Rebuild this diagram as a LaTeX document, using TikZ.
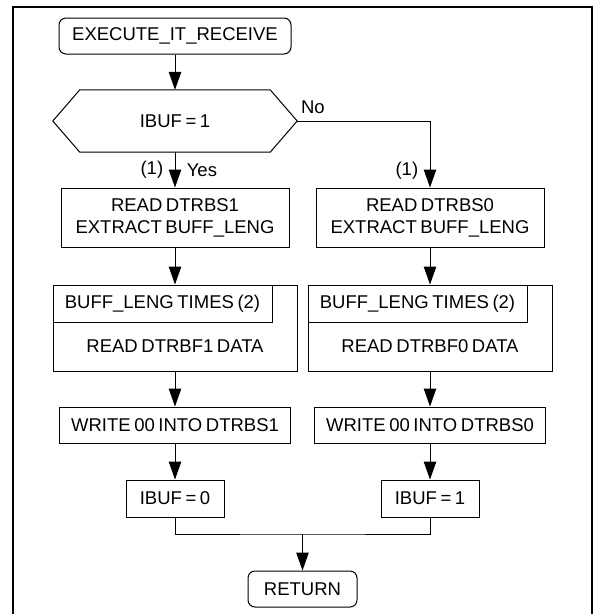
\documentclass[tikz,border=0pt]{standalone}
\usepackage{fontspec}
\setmainfont[WordSpace=0.7]{Liberation Sans}
\usetikzlibrary{arrows.meta}

\begin{document}
\begin{tikzpicture}[x=1pt, y=-1pt,
    box/.style={draw, line width=1pt, inner sep=0pt, align=center, minimum height=36pt},
    endbox/.style={box, rounded corners=7pt},
    label/.style={inner sep=0pt},
    flow/.style={line width=1pt, -{Triangle[width=12.5pt,length=18pt]}},
    every node/.style={font=\fontsize{18.5}{22}\selectfont}]
    \useasboundingbox (0,0) rectangle (595,614);
    % Outer frame
    \draw[line width=2pt] (13,614) -- (13,7) -- (592,7) -- (592,614);

    % Start and decision
    \node[endbox, minimum width=232pt] (start) at (175,36) {EXECUTE\_IT\_RECEIVE};
    \node[label, minimum width=244pt, minimum height=62pt] (test) at (175,121) {IBUF = 1};
    \draw[line width=1pt] (test.west) -- ([xshift=27pt]test.north west) -- ([xshift=-27pt]test.north east)
        -- (test.east) -- ([xshift=-27pt]test.south east) -- ([xshift=27pt]test.south west) -- cycle;
    \draw[flow] (start) -- (test.north);

    % Left branch (IBUF = 1)
    \node[box, minimum width=228pt, minimum height=59pt] (readA) at (175,217.5) {READ DTRBS1\\EXTRACT BUFF\_LENG};
    \node[box, minimum width=244pt, minimum height=86pt] (loopA) at (175,328) {};
    \node[box, anchor=north west, minimum width=219pt, minimum height=37pt] (headA) at (loopA.north west) {BUFF\_LENG TIMES (2)};
    \node[label] (bodyA) at (175,346.5) {READ DTRBF1 DATA};
    \node[box, minimum width=231pt] (writeA) at (175,425) {WRITE 00 INTO DTRBS1};
    \node[box, minimum width=98pt, minimum height=37pt] (setA) at (175,498.5) {IBUF = 0};

    % Right branch (IBUF = 0)
    \node[box, minimum width=228pt, minimum height=59pt] (readB) at (430,217.5) {READ DTRBS0\\EXTRACT BUFF\_LENG};
    \node[box, minimum width=244pt, minimum height=86pt] (loopB) at (430,328) {};
    \node[box, anchor=north west, minimum width=219pt, minimum height=37pt] (headB) at (loopB.north west) {BUFF\_LENG TIMES (2)};
    \node[label] (bodyB) at (430,346.5) {READ DTRBF0 DATA};
    \node[box, minimum width=231pt] (writeB) at (430,425) {WRITE 00 INTO DTRBS0};
    \node[box, minimum width=98pt, minimum height=37pt] (setB) at (430,498.5) {IBUF = 1};

    % End
    \node[endbox, minimum width=109pt] (stop) at (302.5,589) {RETURN};
    \coordinate (merge) at (302.5,534);

    % Connectors
    \draw[flow] (test.south) -- (readA.north)
        node[pos=0.5, left=8pt] {(1)} node[pos=0.5, right=8pt] {Yes};
    \draw[flow] (test.east) -| (readB.north)
        node[pos=0, anchor=south west, yshift=3pt] {No} node[pos=0.87, left=8pt] {(1)};
    \draw[flow] (readA) -- (loopA);
    \draw[flow] (loopA) -- (writeA);
    \draw[flow] (writeA) -- (setA);
    \draw[flow] (readB) -- (loopB);
    \draw[flow] (loopB) -- (writeB);
    \draw[flow] (writeB) -- (setB);
    \draw[line width=1pt] (setA.south) |- (merge) -| (setB.south);
    \draw[flow] (merge) -- (stop.north);
\end{tikzpicture}
\end{document}
